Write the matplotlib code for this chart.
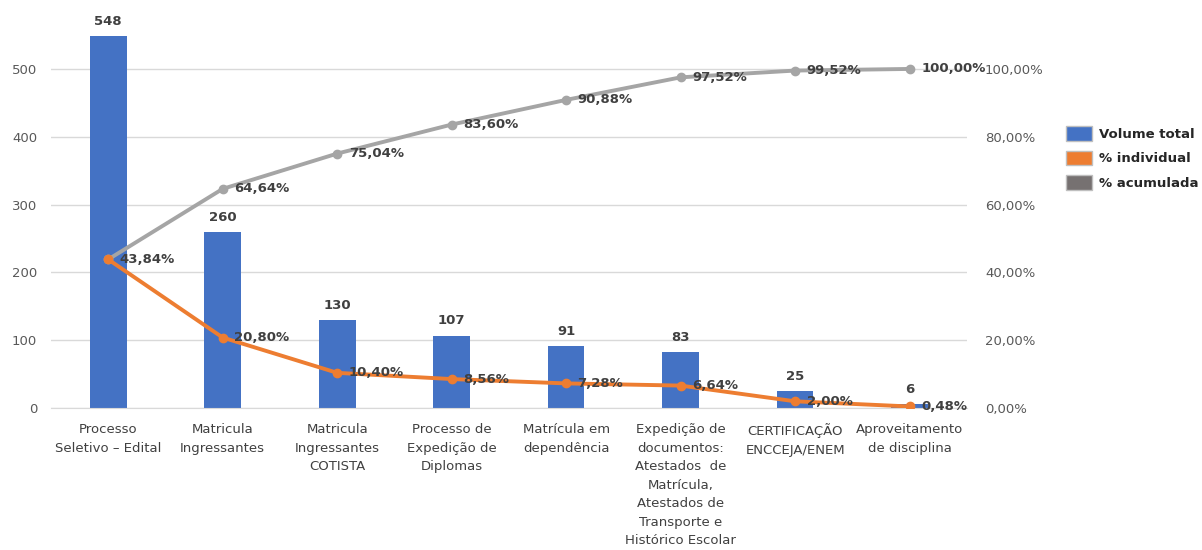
import matplotlib.pyplot as plt
from matplotlib.patches import Patch
import numpy as np

categorias = [
    "Processo\nSeletivo – Edital",
    "Matricula\nIngressantes",
    "Matricula\nIngressantes\nCOTISTA",
    "Processo de\nExpedição de\nDiplomas",
    "Matrícula em\ndependência",
    "Expedição de\ndocumentos:\nAtestados  de\nMatrícula,\nAtestados de\nTransporte e\nHistórico Escolar",
    "CERTIFICAÇÃO\nENCCEJA/ENEM",
    "Aproveitamento\nde disciplina",
]
volume_total = [548, 260, 130, 107, 91, 83, 25, 6]
pct_individual = [43.84, 20.80, 10.40, 8.56, 7.28, 6.64, 2.00, 0.48]
pct_acumulada = [43.84, 64.64, 75.04, 83.60, 90.88, 97.52, 99.52, 100.00]

AZUL = "#4472C4"
LARANJA = "#ED7D31"
CINZA = "#A5A5A5"
TEXTO = "#404040"
EIXO = "#595959"


def fmt_pct(v):
    return f"{v:.2f}%".replace(".", ",")


fig = plt.figure(figsize=(12.02, 5.5), dpi=100)
ax = fig.add_axes([0.0424, 0.258, 0.762, 0.74])
ax2 = ax.twinx()

x = np.arange(len(categorias))
ax.bar(x, volume_total, width=0.32, color=AZUL, zorder=2)
for xi, v in zip(x, volume_total):
    ax.text(xi, v + 12, str(v), ha="center", va="bottom",
            fontsize=9.5, fontweight="bold", color=TEXTO)

ax.set_xlim(-0.5, len(categorias) - 0.5)
ax.set_ylim(0, 600)
ax.set_yticks(range(0, 501, 100))
ax.grid(axis="y", color="#D9D9D9", linewidth=1, zorder=0)
ax.set_axisbelow(True)
ax.set_xticks(x)
ax.set_xticklabels(categorias, fontsize=9.5, color=TEXTO, linespacing=1.55)
ax.tick_params(axis="x", length=0, pad=11)
ax.tick_params(axis="y", length=0, labelsize=9.5, labelcolor=EIXO, pad=10)
for s in ax.spines.values():
    s.set_visible(False)
ax.spines["bottom"].set_visible(True)
ax.spines["bottom"].set_color("#D9D9D9")

ax2.set_ylim(0, 120)
ax2.set_yticks(range(0, 101, 20))
ax2.set_yticklabels([fmt_pct(v) for v in range(0, 101, 20)])
ax2.tick_params(axis="y", length=0, labelsize=9.5, labelcolor=EIXO, pad=13)
for s in ax2.spines.values():
    s.set_visible(False)

ax2.plot(x, pct_acumulada, color=CINZA, linewidth=2.8, marker="o",
         markersize=6, zorder=3)
ax2.plot(x, pct_individual, color=LARANJA, linewidth=2.8, marker="o",
         markersize=6, zorder=4)
for xi, v in zip(x, pct_acumulada):
    ax2.text(xi + 0.1, v, fmt_pct(v), ha="left", va="center",
             fontsize=9.5, fontweight="bold", color=TEXTO, zorder=5)
for xi, v in zip(x, pct_individual):
    if xi == 0:
        continue
    ax2.text(xi + 0.1, v, fmt_pct(v), ha="left", va="center",
             fontsize=9.5, fontweight="bold", color=TEXTO, zorder=5)

handles = [
    Patch(facecolor=AZUL, edgecolor="#BFBFBF", label="Volume total"),
    Patch(facecolor=LARANJA, edgecolor="#BFBFBF", label="% individual"),
    Patch(facecolor="#767171", edgecolor="#BFBFBF", label="% acumulada"),
]
leg = fig.legend(handles=handles, loc="center left",
                 bbox_to_anchor=(0.877, 1 - 158 / 550),
                 bbox_transform=fig.transFigure, frameon=False,
                 prop={"weight": "bold", "size": 9.5}, handlelength=2.0,
                 handleheight=1.3, labelspacing=0.75, handletextpad=0.5)
for t in leg.get_texts():
    t.set_color("#262626")

fig.savefig("out.png", dpi=100)
